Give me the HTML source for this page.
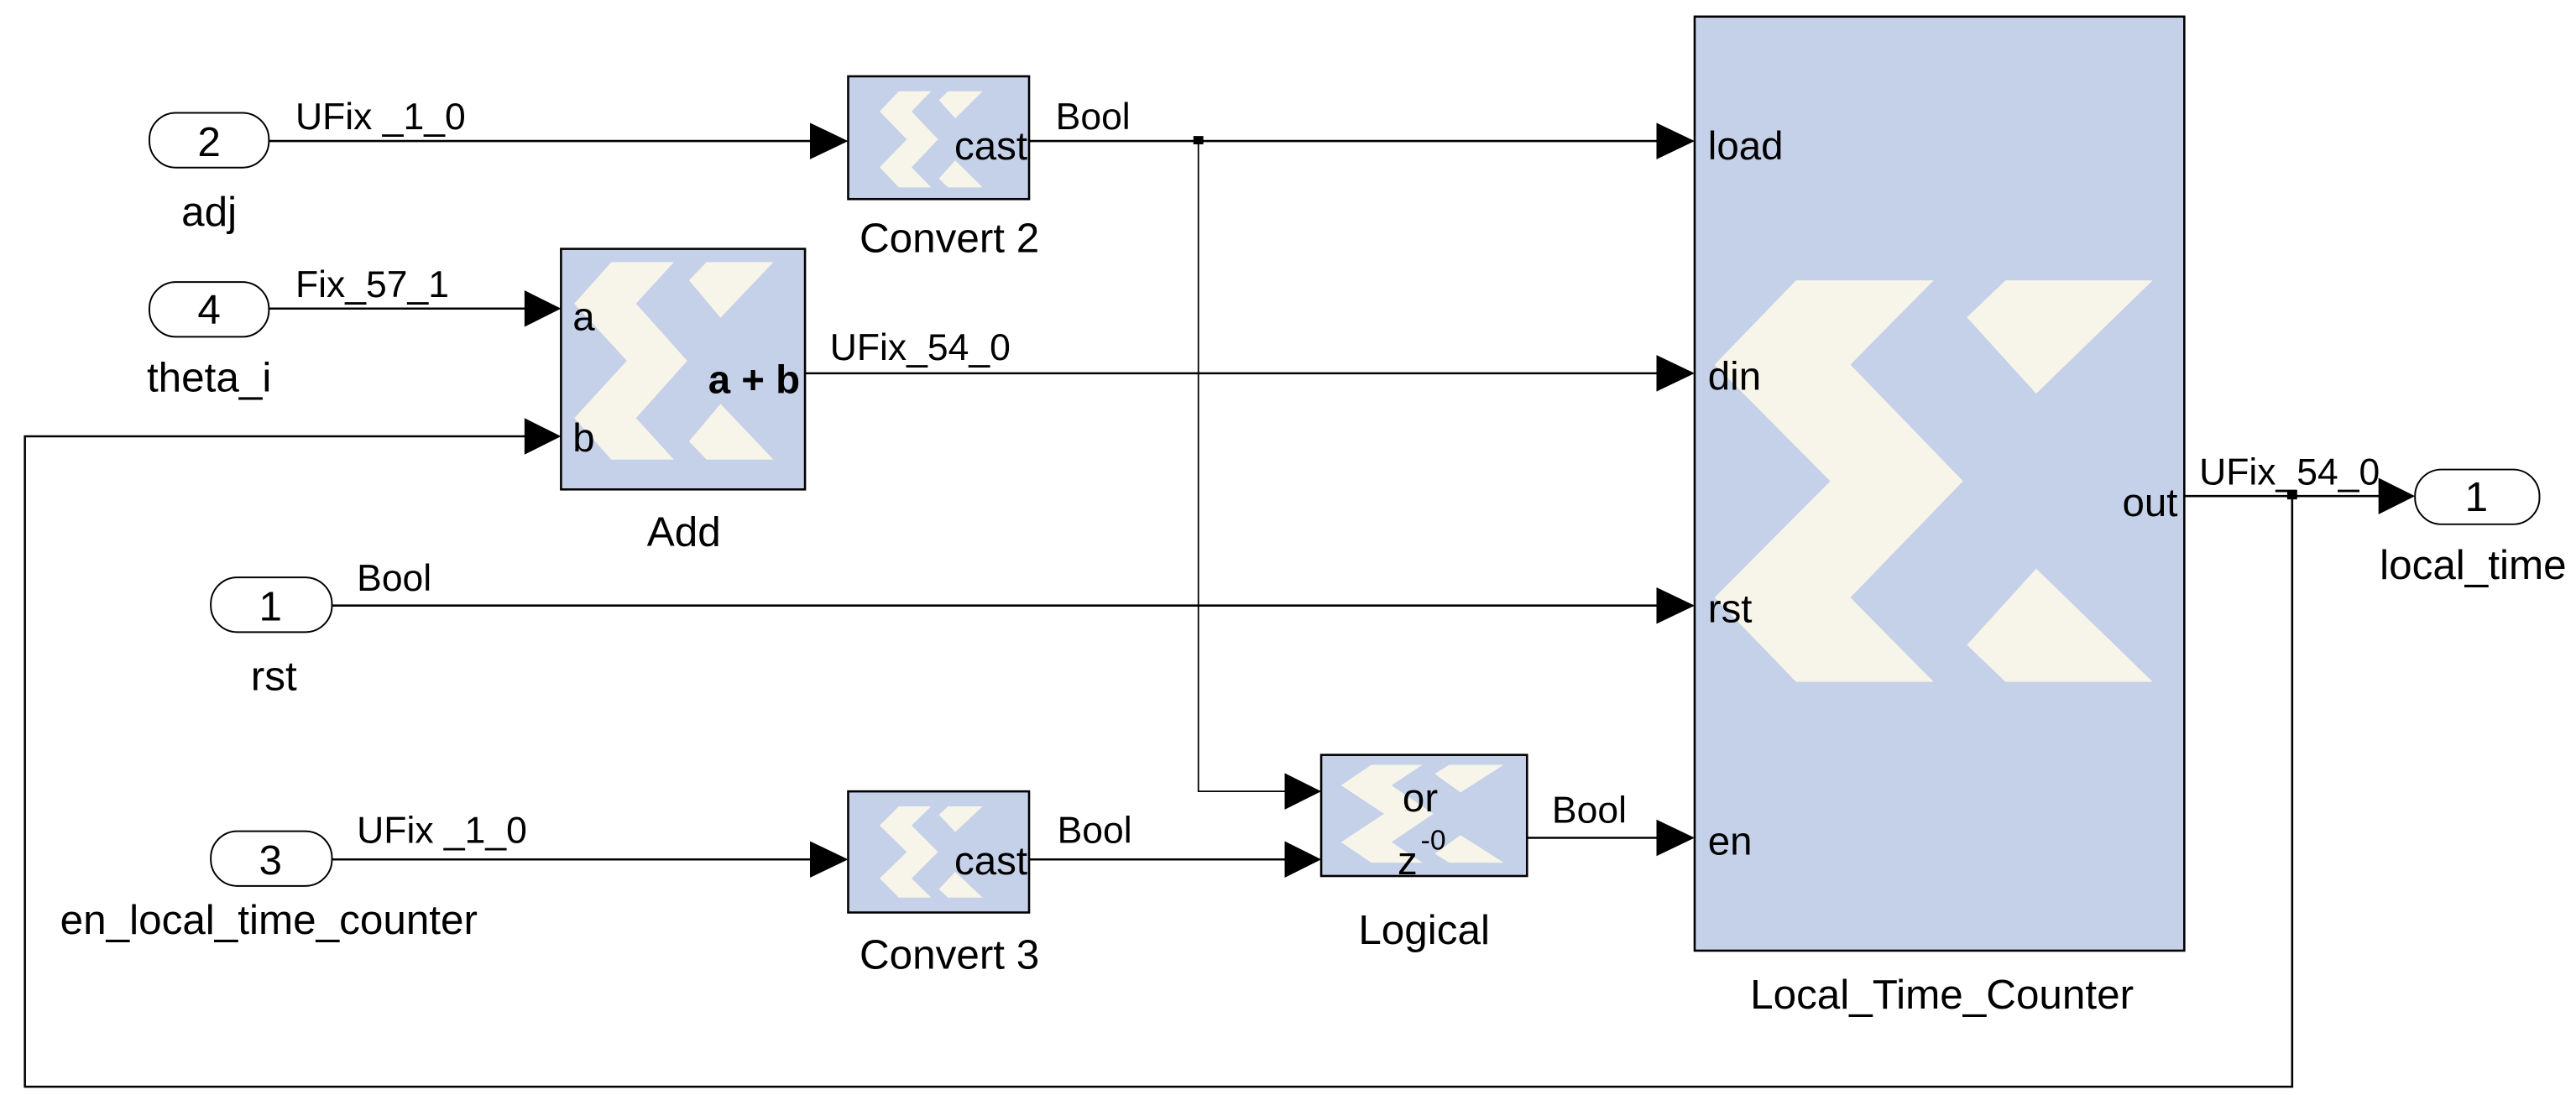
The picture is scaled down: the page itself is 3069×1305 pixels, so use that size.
<!DOCTYPE html>
<html><head><meta charset="utf-8"><style>
html,body{margin:0;padding:0;background:#fff;}
svg{display:block;}
text{font-family:"Liberation Sans",Arial,sans-serif;fill:#000;}
</style></head><body>
<svg width="3069" height="1305" viewBox="0 0 1552 660" preserveAspectRatio="none" xmlns="http://www.w3.org/2000/svg">
<defs>
<g id="logo">
<polygon points="0.186,0 0.5,0 0.31,0.21 0.567,0.5 0.31,0.79 0.5,1 0.186,1 0,0.79 0.264,0.5 0,0.21" fill="#f7f4ea"/>
<polygon points="0.664,0 1,0 0.734,0.282 0.576,0.092" fill="#f7f4ea"/>
<polygon points="0.664,1 1,1 0.734,0.718 0.576,0.908" fill="#f7f4ea"/>
</g>
</defs>
<g stroke="#000" stroke-width="1.3" fill="none">
<line x1="162" y1="85" x2="490" y2="85"/>
<line x1="620" y1="85" x2="1000" y2="85"/>
<polyline points="722,85 722,477 776,477" stroke-width="0.9"/>
<line x1="162" y1="186" x2="318" y2="186"/>
<polyline points="1381,299 1381,655 15,655 15,263 318,263"/>
<line x1="485" y1="225" x2="1000" y2="225"/>
<line x1="200" y1="365" x2="1000" y2="365"/>
<line x1="200" y1="518" x2="490" y2="518"/>
<line x1="620" y1="518" x2="776" y2="518"/>
<line x1="920" y1="505" x2="1000" y2="505"/>
<line x1="1316" y1="299" x2="1435" y2="299"/>
</g>
<rect x="719" y="82" width="6" height="5" fill="#000"/>
<rect x="1378" y="296" width="6" height="5" fill="#000"/>
<g fill="#000">
<polygon points="488,74 511,85 488,96"/>
<polygon points="316,175 338,186 316,197"/>
<polygon points="316,252 338,263 316,274"/>
<polygon points="998,74 1021,85 998,96"/>
<polygon points="998,214 1021,225 998,236"/>
<polygon points="998,354 1021,365 998,376"/>
<polygon points="998,494 1021,505 998,516"/>
<polygon points="488,507 511,518 488,529"/>
<polygon points="774,466 796,477 774,488"/>
<polygon points="774,507 796,518 774,529"/>
<polygon points="1433,288 1455,299 1433,310"/>
</g>
<g fill="#fff" stroke="#000" stroke-width="1">
<rect x="90" y="68" width="72" height="33" rx="16"/>
<rect x="90" y="170" width="72" height="33" rx="16"/>
<rect x="127" y="348" width="73" height="33" rx="16"/>
<rect x="127" y="501" width="73" height="33" rx="16"/>
<rect x="1455" y="283" width="75" height="33" rx="16"/>
</g>
<g font-size="25" text-anchor="middle">
<text x="126" y="94">2</text>
<text x="126" y="195">4</text>
<text x="163" y="374">1</text>
<text x="163" y="527">3</text>
<text x="1492" y="308">1</text>
<text x="126" y="136">adj</text>
<text x="126" y="236">theta_i</text>
<text x="165" y="416">rst</text>
<text x="162" y="563">en_local_time_counter</text>
<text x="1490" y="349">local_time</text>
<text x="572" y="152">Convert 2</text>
<text x="412" y="329">Add</text>
<text x="572" y="584">Convert 3</text>
<text x="858" y="569">Logical</text>
<text x="1170" y="608">Local_Time_Counter</text>
</g>
<g font-size="22.5">
<text x="178" y="78">UFix _1_0</text>
<text x="636" y="78">Bool</text>
<text x="178" y="179">Fix_57_1</text>
<text x="500" y="217">UFix_54_0</text>
<text x="215" y="356">Bool</text>
<text x="215" y="508">UFix _1_0</text>
<text x="637" y="508">Bool</text>
<text x="935" y="496">Bool</text>
<text x="1325" y="292">UFix_54_0</text>
</g>
<g stroke="#000" stroke-width="1.3" fill="#c5d1e8">
<rect x="511" y="46" width="109" height="74"/>
<rect x="338" y="150" width="147" height="145"/>
<rect x="511" y="477" width="109" height="73"/>
<rect x="796" y="455" width="124" height="73"/>
<rect x="1021" y="10" width="295" height="563"/>
</g>
<use href="#logo" transform="translate(530,55) scale(62,58)"/>
<use href="#logo" transform="translate(346,158) scale(120,119)"/>
<use href="#logo" transform="translate(530,486) scale(62,55)"/>
<use href="#logo" transform="translate(808,461) scale(98,59)"/>
<use href="#logo" transform="translate(1033,169) scale(264,242)"/>
<g font-size="24">
<text x="619" y="96" text-anchor="end">cast</text>
<text x="619" y="527" text-anchor="end">cast</text>
<text x="345" y="199">a</text>
<text x="345" y="272">b</text>
<text x="482" y="237" text-anchor="end" font-weight="bold">a + b</text>
<text x="845" y="489">or</text>
<text x="842" y="527">z</text>
<text x="856" y="512" font-size="17">-0</text>
<text x="1029" y="96">load</text>
<text x="1029" y="235">din</text>
<text x="1029" y="375">rst</text>
<text x="1029" y="515">en</text>
<text x="1312" y="311" text-anchor="end">out</text>
</g>
</svg>
</body></html>
